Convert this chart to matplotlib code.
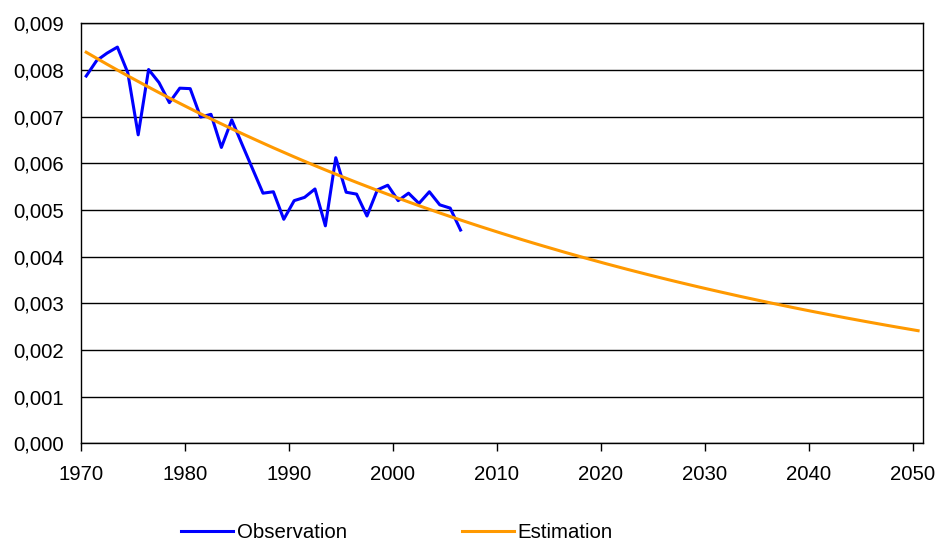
import matplotlib
matplotlib.use("Agg")
import matplotlib.pyplot as plt
from matplotlib.ticker import FuncFormatter, MultipleLocator

plt.rcParams['font.family'] = ['Liberation Sans', 'DejaVu Sans']

obs_years = list(range(1970, 2007))
obs_values = [0.00787, 0.00820, 0.00836, 0.00849, 0.00794, 0.00661, 0.00801, 0.00773,
              0.00730, 0.00761, 0.00760, 0.00699, 0.00705, 0.00634, 0.00693, 0.00640,
              0.00588, 0.00536, 0.00539, 0.00480, 0.00520, 0.00527, 0.00545, 0.00466,
              0.00612, 0.00538, 0.00534, 0.00487, 0.00543, 0.00553, 0.00520, 0.00536,
              0.00514, 0.00539, 0.00511, 0.00504, 0.00457]

est_years = list(range(1970, 2051))
est_values = [0.008380, 0.008251, 0.008123, 0.007998, 0.007874, 0.007753, 0.007633, 0.007515,
              0.007399, 0.007285, 0.007172, 0.007061, 0.006952, 0.006845, 0.006739, 0.006635,
              0.006533, 0.006432, 0.006332, 0.006235, 0.006138, 0.006043, 0.005950, 0.005858,
              0.005768, 0.005679, 0.005591, 0.005505, 0.005420, 0.005336, 0.005254, 0.005172,
              0.005092, 0.005014, 0.004936, 0.004860, 0.004785, 0.004711, 0.004638, 0.004567,
              0.004496, 0.004427, 0.004358, 0.004291, 0.004225, 0.004160, 0.004095, 0.004032,
              0.003970, 0.003909, 0.003848, 0.003789, 0.003730, 0.003673, 0.003616, 0.003560,
              0.003505, 0.003451, 0.003398, 0.003345, 0.003294, 0.003243, 0.003193, 0.003143,
              0.003095, 0.003047, 0.003000, 0.002954, 0.002908, 0.002863, 0.002819, 0.002776,
              0.002733, 0.002690, 0.002649, 0.002608, 0.002568, 0.002528, 0.002489, 0.002451,
              0.002413]

x_ticks = [1970, 1980, 1990, 2000, 2010, 2020, 2030, 2040, 2050]

FS = 14.7

fig = plt.figure(figsize=(9.44, 5.41), dpi=100)
ax = fig.add_axes([81/944, 1-443.3/541, (923.3-81)/944, (443.3-23.3)/541])

# categories centred between ticks (Excel-style category axis)
ax.plot([y + 0.5 for y in obs_years], obs_values, color='#0000FF', lw=2.2,
        label='Observation', solid_joinstyle='round', zorder=3)
ax.plot([y + 0.5 for y in est_years], est_values, color='#FF9900', lw=2.2,
        label='Estimation', solid_joinstyle='round', zorder=3)

ax.set_xlim(1970, 2051)
ax.set_ylim(0, 0.009)
ax.set_xticks(x_ticks)
ax.set_xticklabels([str(t) for t in x_ticks])
ax.yaxis.set_major_locator(MultipleLocator(0.001))
ax.yaxis.set_major_formatter(FuncFormatter(lambda v, p: f"{v:.3f}".replace('.', ',')))
ax.grid(axis='y', color='black', lw=1.0)
ax.set_axisbelow(True)

for s in ['left', 'right', 'top', 'bottom']:
    ax.spines[s].set_color('black')
    ax.spines[s].set_linewidth(1.0)

ax.tick_params(axis='x', length=5.8, width=1.0, direction='out', pad=10, labelsize=FS, color='black')
ax.tick_params(axis='y', length=0, pad=12, labelsize=FS)

fig.legend(loc='center', bbox_to_anchor=(397/944, 1-533/541), ncol=2, frameon=False,
           fontsize=FS, handlelength=2.55, handletextpad=0.2, columnspacing=5.6,
           borderpad=0)

fig.savefig('out.png', dpi=100)
